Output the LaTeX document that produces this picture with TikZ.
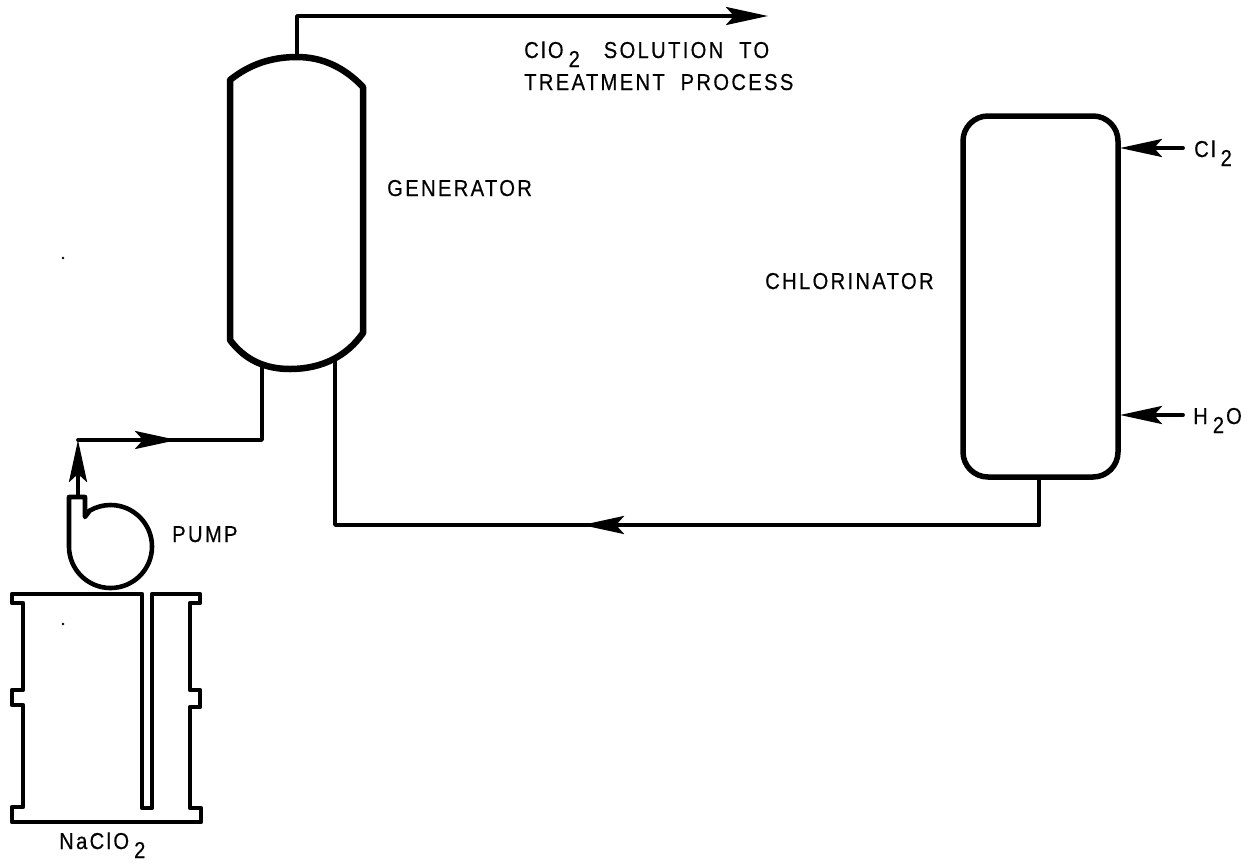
\documentclass[tikz,border=0pt]{standalone}
\usepackage{fontspec}
\setmainfont[LetterSpace=10,FakeStretch=0.88,FakeBold=0.4,WordSpace=2.0]{Liberation Sans}
\usetikzlibrary{arrows.meta}
\newcommand{\lowtwo}{\kern5pt\raisebox{-9pt}{2}\kern2pt}
\tikzset{
  x=1pt,y=-1pt,
  pipe/.style={draw=black,line width=3.8pt,line join=round,line cap=round},
  vessel/.style={draw=black,line width=6.5pt,line join=round,line cap=round},
  shell/.style={draw=black,line width=4.6pt,line join=round,line cap=round},
  flow/.style={pipe,-{Stealth[length=42pt,width=18pt,inset=8pt]}},
  lab/.style={anchor=base west,inner sep=0pt,font=\fontsize{23}{26}\selectfont},
  tank/.style={draw=black,line width=5.5pt,rounded corners=25pt,minimum width=155pt,minimum height=361pt,inner sep=0pt},
}
\begin{document}
\begin{tikzpicture}
\useasboundingbox (0,0) rectangle (1250,863);
\fill[white] (0,0) rectangle (1250,863);
% generator
\draw[vessel] (230,80) .. controls (250,64) and (272,57) .. (297,57)
  .. controls (323,57) and (345,68) .. (363,87) -- (363,333)
  .. controls (347,356) and (322,369) .. (290,369)
  .. controls (265,369) and (245,360) .. (230,340) -- cycle;
\coordinate (gentop) at (297,57);
\coordinate (genbl) at (262,364);
\coordinate (genbr) at (335,360);
% chlorinator
\node[tank] (chl) at (1040.5,296.5) {};
\coordinate (chlbot) at (1039,477);
\coordinate (chlcl) at (1120,148);
\coordinate (chlh) at (1120,415);
% pump
\draw[shell] (85,497) -- (69,497) -- (69,546.5)
  arc[start angle=180,end angle=-120,radius=41.5] -- (85,517) -- cycle;
\coordinate (pumpout) at (78,497);
\coordinate (elbow) at (78,440);
% drum
\draw[shell] (12,594) -- (142,594) -- (142,808) -- (152,808) -- (152,594) -- (200,594)
  -- (200,603) -- (190,603) -- (190,690) -- (200,690) -- (200,707) -- (190,707)
  -- (190,808) -- (201,808) -- (201,822) -- (12,822) -- (12,807) -- (23,807)
  -- (23,705) -- (12,705) -- (12,690) -- (23,690) -- (23,603) -- (12,603) -- cycle;
% connectors
\coordinate (topc) at (297,16);
\coordinate (topm) at (768,16);
\draw[flow] (gentop) -- (topc) -- (topm);
\draw[flow] (pumpout) -- (elbow);
\coordinate (m1) at (177,440);
\coordinate (m1b) at (165,440);
\coordinate (c1) at (262,440);
\draw[flow] (elbow) -- (m1);
\draw[pipe] (m1b) -- (c1) -- (genbl);
\coordinate (c2) at (335,525);
\coordinate (m2) at (582,525);
\coordinate (m2b) at (595,525);
\coordinate (c3) at (1039,525);
\draw[pipe] (genbr) -- (c2) -- (m2b);
\draw[flow] (c3) -- (m2);
\draw[pipe] (c3) -- (chlbot);
\coordinate (clin) at (1183,148);
\coordinate (hin) at (1183,415);
\draw[flow] (clin) -- (chlcl);
\draw[flow] (hin) -- (chlh);
% specks
\fill (63,258) circle (1.3pt) (63,624) circle (1.3pt);
% labels
\node[lab] (t1) at (524,58) {ClO\lowtwo\ \kern6pt SOLUTION TO};
\node[lab] (t2) at (524,90) {TREATMENT PROCESS};
\node[lab] (t3) at (387,196) {GENERATOR};
\node[lab] (t4) at (765,289) {CHLORINATOR};
\node[lab] (t5) at (172,542) {PUMP};
\node[lab] (t6) at (59,849) {NaClO\lowtwo};
\node[lab] (t7) at (1194,157) {Cl\lowtwo};
\node[lab] (t8) at (1193,424) {H\lowtwo O};
\end{tikzpicture}
\end{document}
